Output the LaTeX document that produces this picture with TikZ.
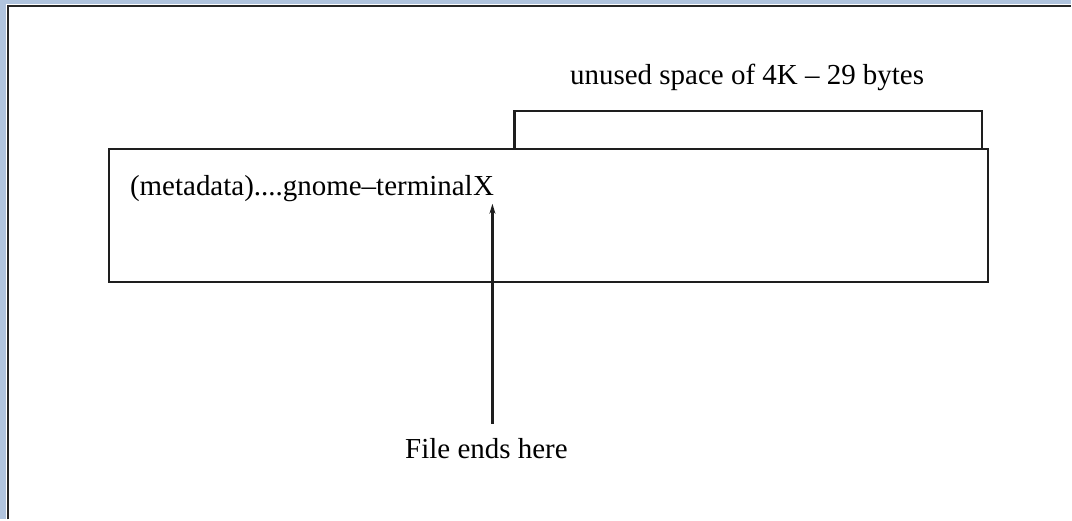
\documentclass[tikz,border=0pt]{standalone}
\usepackage{fontspec}
\setmainfont{Liberation Serif}
\usetikzlibrary{arrows.meta}
\definecolor{framebg}{RGB}{176,196,222}
\definecolor{linecol}{RGB}{30,30,30}
\tikzset{
  boxshape/.style={draw=linecol, line width=2.2pt, inner sep=0pt, anchor=north west},
  txt/.style={inner sep=0pt, font=\fontsize{29}{34}\selectfont},
  pointer/.style={draw=linecol, line width=2.2pt, -{Stealth[length=10pt,width=6pt]}}
}
\begin{document}
\begin{tikzpicture}[x=1pt,y=-1pt]
  % frame
  \fill[framebg] (0,0) rectangle (1072,520);
  \fill[white] (6,4) rectangle (1072,520);
  \draw[black!85, line width=2.5pt] (8,520) -- (8,6) -- (1072,6);
  \useasboundingbox (0,0) rectangle (1072,520);
  % boxes
  \node[boxshape, minimum width=468pt, minimum height=38pt] (unused) at (514,110) {};
  \node[boxshape, minimum width=880pt, minimum height=133pt, fill=white] (file) at (108,148) {};
  % texts
  \node[txt, anchor=base] (ulabel) at (748,85) {unused space of 4K -- 29 bytes};
  \node[txt, anchor=base west] (meta) at (130,196) {(metadata)....gnome--terminal};
  \node[txt, anchor=base west] (xmark) at (meta.base east) {X};
  \node[txt, anchor=base] (ends) at (487,459) {File ends here};
  % pointer
  \coordinate (tail) at (493,424);
  \coordinate (tip) at (493,204);
  \draw[pointer] (tail) -- (tip);
\end{tikzpicture}
\end{document}
